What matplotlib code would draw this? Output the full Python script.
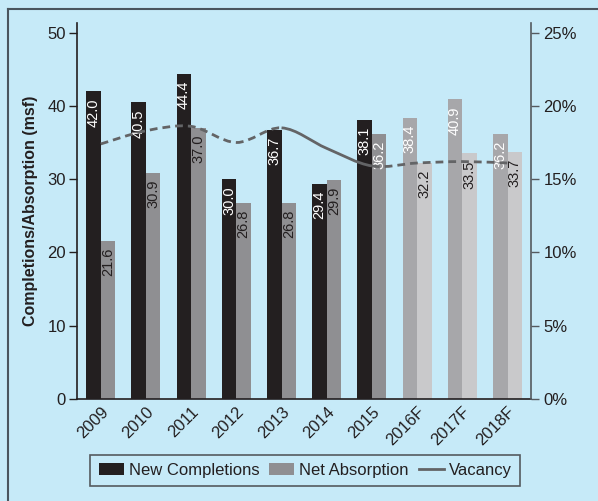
import numpy as np
import matplotlib
matplotlib.use('Agg')
import matplotlib.pyplot as plt
from matplotlib.path import Path
from matplotlib.patches import PathPatch, Patch
from matplotlib.lines import Line2D

plt.rcParams['font.family'] = ['Liberation Sans', 'DejaVu Sans']

# data
years = ['2009', '2010', '2011', '2012', '2013', '2014', '2015', '2016F', '2017F', '2018F']
completions = [42.0, 40.5, 44.4, 30.0, 36.7, 29.4, 38.1, 38.4, 40.9, 36.2]
absorption = [21.6, 30.9, 37.0, 26.8, 26.8, 29.9, 36.2, 32.2, 33.5, 33.7]
vacancy = [17.4, 18.3, 18.6, 17.5, 18.5, 17.1, 15.9, 16.1, 16.2, 16.1]
forecast = [False] * 7 + [True] * 3

bg = '#c6eaf8'
dark = '#231f20'
hist_grey = '#8f8f92'
fc_new = '#a7a7aa'
fc_abs = '#c9c9cb'
line_col = '#636466'

fig = plt.figure(figsize=(5.98, 5.01), dpi=100, facecolor=bg)
ax = fig.add_axes([0.1288, 0.2036, 0.888 - 0.1288, 0.954 - 0.2036])
ax.set_facecolor(bg)

x = np.arange(len(years))
w = 0.32
c1 = [fc_new if f else dark for f in forecast]
c2 = [fc_abs if f else hist_grey for f in forecast]
ax.bar(x - w / 2, completions, w, color=c1, zorder=2)
ax.bar(x + w / 2, absorption, w, color=c2, zorder=2)

# value labels inside the top of each bar
for i in range(len(years)):
    ax.annotate('{:.1f}'.format(completions[i]), (x[i] - w / 2, completions[i]),
                xytext=(0, -5), textcoords='offset points', rotation=90,
                ha='center', va='top', color='white', fontsize=10.5, zorder=3)
    if forecast[i]:
        lab_col = dark
    elif i == 6:
        lab_col = 'white'
    else:
        lab_col = dark
    ax.annotate('{:.1f}'.format(absorption[i]), (x[i] + w / 2, absorption[i]),
                xytext=(0, -5), textcoords='offset points', rotation=90,
                ha='center', va='top', color=lab_col, fontsize=10.5, zorder=3)

ax.set_xlim(-0.525, 9.52)
ax.set_ylim(0, 51.3)
ax.set_yticks([0, 10, 20, 30, 40, 50])
ax.set_xticks(x)
ax.set_xticklabels(years, rotation=45, ha='right', va='top', rotation_mode='anchor',
                   fontsize=12, color=dark)
ax.tick_params(axis='x', length=0, pad=4)
ax.tick_params(axis='y', length=6, width=1, colors=dark, labelsize=12, pad=2)
ax.spines['top'].set_visible(False)
ax.spines['right'].set_visible(False)
for s in ['left', 'bottom']:
    ax.spines[s].set_color(dark)
    ax.spines[s].set_linewidth(1.2)
ax.set_ylabel('Completions/Absorption (msf)', fontsize=11.5, fontweight='bold',
              color=dark, labelpad=7)

ax2 = ax.twinx()
ax2.set_ylim(0, 25 * 51.3 / 50)
ax2.set_yticks([0, 5, 10, 15, 20, 25])
ax2.set_yticklabels(['{}%'.format(v) for v in [0, 5, 10, 15, 20, 25]])
ax2.tick_params(axis='y', length=6, width=1, colors=dark, labelsize=12, pad=3)
ax2.tick_params(axis='y', color='#555a5f')
for s in ['top', 'left', 'bottom']:
    ax2.spines[s].set_visible(False)
ax2.spines['right'].set_color('#555a5f')
ax2.spines['right'].set_linewidth(1.2)


# smooth vacancy curve drawn as bezier segments through the data points
def smooth_path(xs, ys, i0, i1):
    n = len(xs)
    verts = [(xs[i0], ys[i0])]
    codes = [Path.MOVETO]
    for i in range(i0, i1):
        p0 = max(i - 1, 0)
        p3 = min(i + 2, n - 1)
        ca = (xs[i] + (xs[i + 1] - xs[p0]) / 6, ys[i] + (ys[i + 1] - ys[p0]) / 6)
        cb = (xs[i + 1] - (xs[p3] - xs[i]) / 6, ys[i + 1] - (ys[p3] - ys[i]) / 6)
        verts += [ca, cb, (xs[i + 1], ys[i + 1])]
        codes += [Path.CURVE4] * 3
    return Path(verts, codes)


xs = list(x.astype(float))
for (i0, i1, ls) in [(0, 4, (0, (2.8, 1.8))), (4, 6, '-'), (6, 9, (0, (2.8, 1.8)))]:
    ax2.add_patch(PathPatch(smooth_path(xs, vacancy, i0, i1), fill=False,
                            edgecolor=line_col, linewidth=2, linestyle=ls,
                            capstyle='butt', zorder=4))

handles = [Patch(facecolor=dark, edgecolor='none'),
           Patch(facecolor=hist_grey, edgecolor='none'),
           Line2D([0], [0], color=line_col, linewidth=2)]
leg = fig.legend(handles, ['New Completions', 'Net Absorption', 'Vacancy'],
                 loc='center', bbox_to_anchor=(0.5106, 0.0612), ncol=3,
                 fontsize=12, frameon=True, fancybox=False, edgecolor='#555a5f',
                 facecolor=bg, framealpha=1, handlelength=1.5, handleheight=0.75,
                 handletextpad=0.3, columnspacing=0.6, borderpad=0.5, borderaxespad=0)
leg.get_frame().set_linewidth(1.2)
for t in leg.get_texts():
    t.set_color(dark)

# outer frame (left and top edges visible)
fx = 8 / 598
fy = 1 - 9 / 501
fig.add_artist(Line2D([fx, fx], [0, fy], transform=fig.transFigure, color='#4a555e', linewidth=1.5))
fig.add_artist(Line2D([fx, 1], [fy, fy], transform=fig.transFigure, color='#4a555e', linewidth=1.5))

fig.savefig('out.png', dpi=100, facecolor=bg)
